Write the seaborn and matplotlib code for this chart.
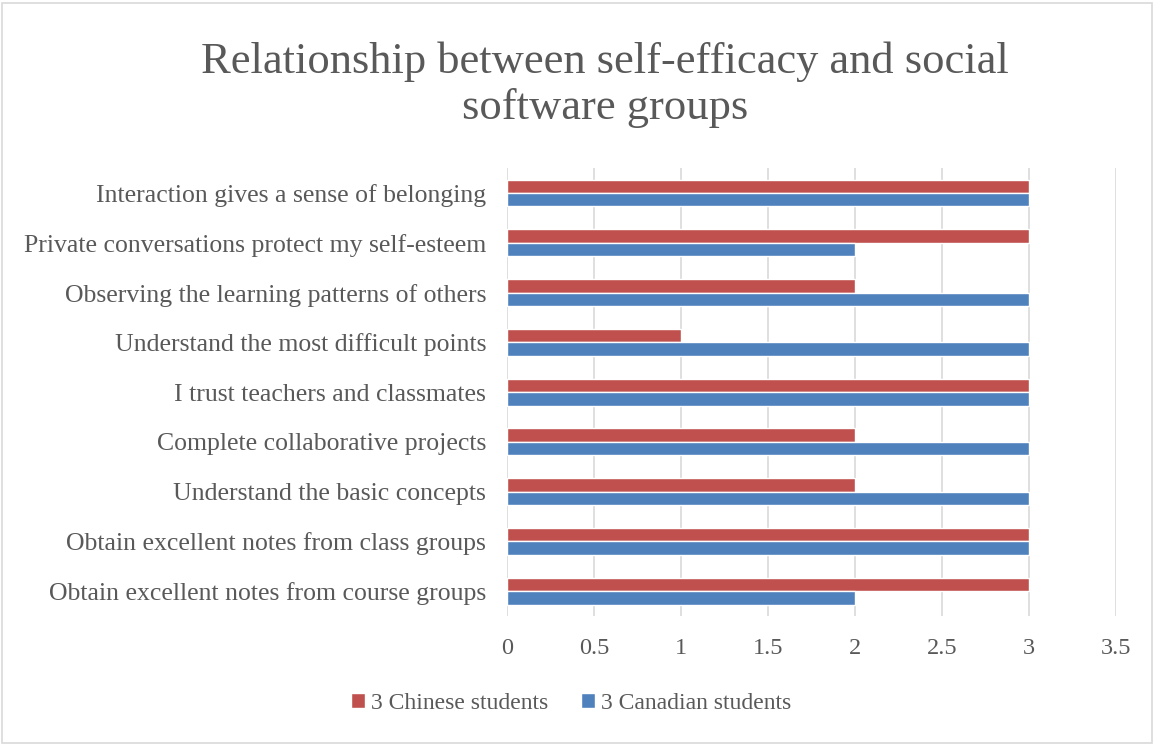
import matplotlib
matplotlib.use('Agg')
import matplotlib.pyplot as plt
import pandas as pd
import seaborn as sns
from matplotlib.patches import Rectangle

# categories listed top to bottom as they appear on the chart
categories = [
    'Interaction gives a sense of belonging',
    'Private conversations protect my self-esteem',
    'Observing the learning patterns of others',
    'Understand the most difficult points',
    'I trust teachers and classmates',
    'Complete collaborative projects',
    'Understand the basic concepts',
    'Obtain excellent notes from class groups',
    'Obtain excellent notes from course groups',
]
chinese = [3, 3, 2, 1, 3, 2, 2, 3, 3]
canadian = [3, 2, 3, 3, 3, 3, 3, 3, 2]
series_names = ['3 Chinese students', '3 Canadian students']
x_ticks = [0, 0.5, 1, 1.5, 2, 2.5, 3, 3.5]
x_tick_labels = ['0', '0.5', '1', '1.5', '2', '2.5', '3', '3.5']

df = pd.DataFrame({
    'category': categories * 2,
    'value': chinese + canadian,
    'group': [series_names[0]] * len(categories) + [series_names[1]] * len(categories),
})

sns.set_theme(style='white')
plt.rcParams['font.family'] = ['Liberation Serif', 'DejaVu Serif']
text_col = '#595959'
grid_col = '#D9D9D9'

fig = plt.figure(figsize=(11.54, 7.44), dpi=100)
fig.patch.set_facecolor('white')
ax = fig.add_axes([0.4393, 0.172, 0.5277, 0.602])

sns.barplot(data=df, x='value', y='category', hue='group', order=categories,
            hue_order=series_names, palette=['#C0504D', '#4F81BD'],
            orient='h', width=0.54, saturation=1, ax=ax, legend=True)

ax.set_xlim(0, 3.5)
ax.set_ylim(len(categories) - 0.5, -0.5)
ax.set_xticks(x_ticks)
ax.set_xticklabels(x_tick_labels)
ax.set_xlabel('')
ax.set_ylabel('')
for s in ax.spines.values():
    s.set_visible(False)
ax.set_axisbelow(True)
ax.grid(axis='x', color=grid_col, linewidth=1.2)
ax.grid(axis='y', visible=False)
ax.tick_params(axis='x', length=0, pad=16, labelsize=17.5, labelcolor=text_col)
ax.tick_params(axis='y', length=0, pad=15, labelsize=18.5, labelcolor=text_col)

handles, labels = ax.get_legend_handles_labels()
ax.get_legend().remove()
fig.legend(handles, labels, loc='center', bbox_to_anchor=(0.495, 0.055),
           ncol=2, frameon=False, fontsize=17, labelcolor=text_col,
           handlelength=0.6, handleheight=0.6, handletextpad=0.25,
           columnspacing=1.4)

fig.text(0.524, 0.886, 'Relationship between self-efficacy and social\nsoftware groups',
         ha='center', va='center', fontsize=32, color=text_col, linespacing=1.2)

fig.patches.append(Rectangle((0.002, 0.002), 0.996, 0.994, transform=fig.transFigure,
                             fill=False, edgecolor=grid_col, linewidth=1.2))

fig.savefig('out.png', dpi=100, facecolor='white')
